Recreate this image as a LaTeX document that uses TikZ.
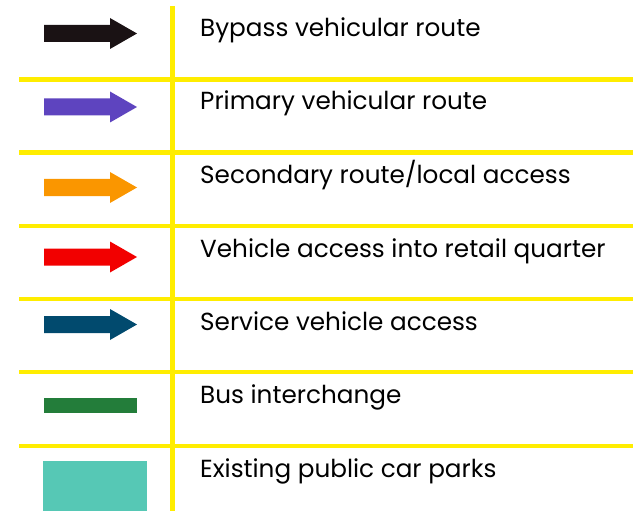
\documentclass[tikz,border=0pt]{standalone}
\usepackage{fontspec}
\setmainfont{Poppins}
\definecolor{legyellow}{HTML}{FFED00}
\definecolor{arrblack}{HTML}{1A1214}
\definecolor{arrpurple}{HTML}{5E44BF}
\definecolor{arrorange}{HTML}{FA9600}
\definecolor{arrred}{HTML}{F20000}
\definecolor{arrnavy}{HTML}{014A6E}
\definecolor{busgreen}{HTML}{237D3A}
\definecolor{parkteal}{HTML}{56C8B5}
\begin{document}
\begin{tikzpicture}[x=1pt,y=-1pt,
  gridline/.style={draw=legyellow,line width=4.5pt},
  labeltext/.style={anchor=base west,inner sep=0pt,font=\fontsize{24.7}{28}\selectfont,text=black}
]
\useasboundingbox (0,0) rectangle (633,511);
% grid
\draw[gridline] (172.5,6) -- (172.5,511);
\foreach \y in {79.5,152.5,226,299,372,446}{
  \draw[gridline] (19,\y) -- (633,\y);
}
% symbols
\fill[arrblack] (44,25) -- (110,25) -- (110,18) -- (137,33.5) -- (110,49) -- (110,42) -- (44,42) -- cycle;
\fill[arrpurple] (44,98.5) -- (110,98.5) -- (110,91.5) -- (137,107) -- (110,122.5) -- (110,115.5) -- (44,115.5) -- cycle;
\fill[arrorange] (44,179) -- (110,179) -- (110,172) -- (137,187.5) -- (110,203) -- (110,196) -- (44,196) -- cycle;
\fill[arrred] (44,248.5) -- (110,248.5) -- (110,241.5) -- (137,257) -- (110,272.5) -- (110,265.5) -- (44,265.5) -- cycle;
\fill[arrnavy] (44,316) -- (110,316) -- (110,309) -- (137,324.5) -- (110,340) -- (110,333) -- (44,333) -- cycle;
\fill[busgreen] (44,398) rectangle (137,413);
\fill[parkteal] (43,461) rectangle (147,511);
% labels
\node[labeltext] (t1) at (200,37) {Bypass vehicular route};
\node[labeltext] (t2) at (200,110) {Primary vehicular route};
\node[labeltext] (t3) at (200,183) {Secondary route/local access};
\node[labeltext] (t4) at (200,257) {Vehicle access into retail quarter};
\node[labeltext] (t5) at (200,330) {Service vehicle access};
\node[labeltext] (t6) at (200,403) {Bus interchange};
\node[labeltext] (t7) at (200,477) {Existing public car parks};
\end{tikzpicture}
\end{document}
